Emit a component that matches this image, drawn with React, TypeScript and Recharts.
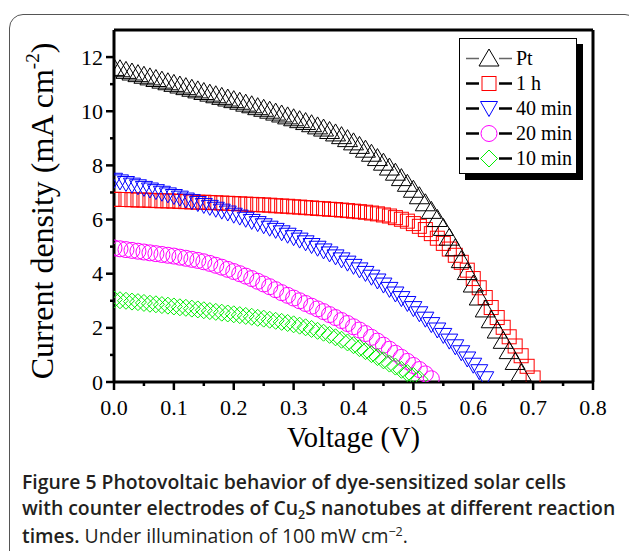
import React from "react";
import { ScatterChart, Scatter, XAxis, YAxis, ReferenceLine, Legend } from "recharts";

// voltage steps shared by all curves (V)
const voltage = [
  0, 0.01, 0.02, 0.03, 0.04, 0.05, 0.06, 0.07, 0.08, 0.09,
  0.1, 0.11, 0.12, 0.13, 0.14, 0.15, 0.16, 0.17, 0.18, 0.19,
  0.2, 0.21, 0.22, 0.23, 0.24, 0.25, 0.26, 0.27, 0.28, 0.29,
  0.3, 0.31, 0.32, 0.33, 0.34, 0.35, 0.36, 0.37, 0.38, 0.39,
  0.4, 0.41, 0.42, 0.43, 0.44, 0.45, 0.46, 0.47, 0.48, 0.49,
  0.5, 0.51, 0.52, 0.53, 0.54, 0.55, 0.56, 0.57, 0.58, 0.59,
  0.6, 0.61, 0.62, 0.63, 0.64, 0.65, 0.66, 0.67, 0.68, 0.69, 0.7,
];

// current density (mA cm-2)
const jPt = [
  11.6, 11.55, 11.49, 11.43, 11.37, 11.31, 11.25, 11.19, 11.13, 11.07,
  11.01, 10.95, 10.89, 10.83, 10.77, 10.71, 10.65, 10.59, 10.53, 10.47,
  10.41, 10.35, 10.28, 10.22, 10.15, 10.09, 10.02, 9.95, 9.88, 9.81,
  9.74, 9.67, 9.6, 9.52, 9.44, 9.36, 9.27, 9.18, 9.08, 8.97,
  8.85, 8.72, 8.58, 8.43, 8.27, 8.1, 7.92, 7.73, 7.53, 7.32,
  7.1, 6.86, 6.6, 6.32, 6.02, 5.69, 5.33, 4.94, 4.5, 4.06,
  3.6, 3.12, 2.68, 2.28, 1.9, 1.52, 1.14, 0.74, 0.32,
];
const j1h = [
  6.75, 6.74, 6.74, 6.73, 6.72, 6.72, 6.71, 6.7, 6.69, 6.69,
  6.68, 6.67, 6.66, 6.65, 6.64, 6.64, 6.63, 6.62, 6.61, 6.6,
  6.59, 6.58, 6.57, 6.56, 6.55, 6.54, 6.53, 6.51, 6.5, 6.49,
  6.47, 6.46, 6.44, 6.43, 6.41, 6.4, 6.38, 6.37, 6.35, 6.33,
  6.31, 6.29, 6.27, 6.24, 6.21, 6.17, 6.13, 6.07, 6.01, 5.94,
  5.85, 5.75, 5.63, 5.48, 5.31, 5.12, 4.91, 4.68, 4.42, 4.13,
  3.82, 3.48, 3.12, 2.75, 2.38, 2.02, 1.67, 1.33, 0.97, 0.58, 0.15,
];
const j40min = [
  7.45, 7.39, 7.33, 7.27, 7.21, 7.15, 7.09, 7.03, 6.97, 6.91,
  6.85, 6.79, 6.72, 6.66, 6.59, 6.52, 6.45, 6.38, 6.31, 6.24,
  6.16, 6.09, 6.01, 5.93, 5.85, 5.77, 5.68, 5.6, 5.51, 5.42,
  5.33, 5.24, 5.14, 5.04, 4.94, 4.84, 4.73, 4.62, 4.51, 4.39,
  4.27, 4.14, 4.01, 3.87, 3.73, 3.58, 3.42, 3.25, 3.08, 2.9,
  2.71, 2.52, 2.32, 2.12, 1.92, 1.72, 1.51, 1.3, 1.08, 0.85,
  0.62, 0.38, 0.12,
];
const j20min = [
  4.95, 4.92, 4.89, 4.86, 4.83, 4.8, 4.77, 4.74, 4.71, 4.68,
  4.65, 4.61, 4.57, 4.53, 4.49, 4.44, 4.38, 4.31, 4.24, 4.16,
  4.08, 4.0, 3.91, 3.82, 3.72, 3.62, 3.52, 3.41, 3.3, 3.2,
  3.1, 3.0, 2.9, 2.8, 2.7, 2.6, 2.49, 2.38, 2.27, 2.16,
  2.04, 1.92, 1.79, 1.65, 1.51, 1.36, 1.21, 1.06, 0.91, 0.76,
  0.61, 0.46, 0.3, 0.12,
];
const j10min = [
  3.05, 3.02, 3.0, 2.97, 2.95, 2.92, 2.89, 2.87, 2.84, 2.82,
  2.79, 2.76, 2.74, 2.71, 2.68, 2.65, 2.62, 2.59, 2.56, 2.53,
  2.5, 2.47, 2.44, 2.41, 2.37, 2.34, 2.3, 2.26, 2.22, 2.18,
  2.13, 2.08, 2.02, 1.96, 1.89, 1.82, 1.74, 1.65, 1.56, 1.46,
  1.36, 1.25, 1.14, 1.03, 0.92, 0.8, 0.68, 0.57, 0.45, 0.33,
  0.22, 0.1,
];

const xTicks = [0, 0.05, 0.1, 0.15, 0.2, 0.25, 0.3, 0.35, 0.4, 0.45, 0.5, 0.55, 0.6, 0.65, 0.7, 0.75, 0.8];
const yTicks = [0, 1, 2, 3, 4, 5, 6, 7, 8, 9, 10, 11, 12];

const serif = '"Liberation Serif", "Times New Roman", serif';

const toPoints = (js: number[]) => js.map((j, i) => ({ v: voltage[i], j }));

// hollow marker shapes
function Marker({ kind, cx, cy, color }: { kind: string; cx: number; cy: number; color: string }) {
  const common = { fill: "none", stroke: color, strokeWidth: 1 };
  if (kind === "up") {
    return <path d={`M${cx},${cy - 9.5}L${cx + 10},${cy + 7.5}L${cx - 10},${cy + 7.5}Z`} {...common} />;
  }
  if (kind === "square") {
    return <rect x={cx - 7} y={cy - 7} width={14} height={14} {...common} />;
  }
  if (kind === "down") {
    return <path d={`M${cx - 8.5},${cy - 7}L${cx + 8.5},${cy - 7}L${cx},${cy + 8}Z`} {...common} />;
  }
  if (kind === "circle") {
    return <circle cx={cx} cy={cy} r={8} {...common} />;
  }
  return <path d={`M${cx},${cy - 8.5}L${cx + 8.5},${cy}L${cx},${cy + 8.5}L${cx - 8.5},${cy}Z`} {...common} />;
}

const series = [
  { name: "Pt", data: toPoints(jPt), color: "#000000", kind: "up", line: "#666666", lw: 1.5 },
  { name: "1 h", data: toPoints(j1h), color: "#ff0000", kind: "square", line: "#000000", lw: 2.5 },
  { name: "40 min", data: toPoints(j40min), color: "#0000ff", kind: "down", line: "#000000", lw: 2.5 },
  { name: "20 min", data: toPoints(j20min), color: "#ff00ff", kind: "circle", line: "#000000", lw: 2.5 },
  { name: "10 min", data: toPoints(j10min), color: "#00ee00", kind: "diamond", line: "#000000", lw: 2.5 },
];
// draw order: red first, Pt last
const drawOrder = [1, 2, 3, 4, 0];

function XTick({ x, y, payload }: any) {
  const v = payload.value;
  const major = Math.round(v * 100) % 10 === 0;
  return (
    <g>
      <line x1={x} x2={x} y1={y} y2={y + (major ? 8 : 4)} stroke="#000" strokeWidth={2.5} />
      {major && (
        <text x={x} y={y + 33} textAnchor="middle" fontFamily={serif} fontSize={22} fill="#000">
          {v.toFixed(1)}
        </text>
      )}
    </g>
  );
}

function YTick({ x, y, payload }: any) {
  const v = payload.value;
  const major = v % 2 === 0;
  return (
    <g>
      <line x1={x - (major ? 8 : 4)} x2={x} y1={y} y2={y} stroke="#000" strokeWidth={2.5} />
      {major && (
        <text x={x - 11} y={y + 7.5} textAnchor="end" fontFamily={serif} fontSize={22} fill="#000">
          {v}
        </text>
      )}
    </g>
  );
}

function LegendBox() {
  return (
    <div
      style={{
        width: 118,
        height: 136,
        boxSizing: "border-box",
        border: "1px solid #000",
        background: "#fff",
        boxShadow: "6px 6px 0 #000",
        paddingTop: 7,
      }}
    >
      {series.map((s) => (
        <div key={s.name} style={{ display: "flex", alignItems: "center", height: 25, whiteSpace: "nowrap" }}>
          <svg width={56} height={25} style={{ flex: "none" }}>
            <line x1={6} x2={52} y1={12.5} y2={12.5} stroke={s.line} strokeWidth={s.lw} />
            <rect x={19} y={3} width={20} height={19} fill="#fff" />
            <Marker kind={s.kind} cx={29} cy={12.5} color={s.color} />
          </svg>
          <span style={{ fontFamily: serif, fontSize: 20, lineHeight: "25px", color: "#000", whiteSpace: "nowrap" }}>
            {s.name}
          </span>
        </div>
      ))}
    </div>
  );
}

export default function App() {
  return (
    <div style={{ position: "absolute", left: 0, top: 0, width: 629, height: 551, overflow: "hidden", background: "#fff" }}>
      <div
        style={{
          position: "absolute",
          left: 9,
          top: 14,
          width: 630,
          height: 600,
          border: "1.5px solid #555",
          borderRadius: 14,
          boxSizing: "border-box",
        }}
      />
      <div style={{ position: "absolute", left: 0, top: 0 }}>
        <ScatterChart width={629} height={551} margin={{ top: 30, right: 36, bottom: 0, left: 0 }}>
          <XAxis
            type="number"
            dataKey="v"
            domain={[0, 0.8]}
            ticks={xTicks}
            interval={0}
            height={169}
            tickSize={0}
            tickMargin={0}
            tickLine={false}
            tick={<XTick />}
            axisLine={{ stroke: "#000", strokeWidth: 3 }}
            allowDataOverflow
            label={{
              content: ({ viewBox }: any) => (
                <text x={viewBox.x + viewBox.width / 2} y={viewBox.y + 65} textAnchor="middle" fontFamily={serif} fontSize={28.5} fill="#000">
                  Voltage (V)
                </text>
              ),
            }}
          />
          <YAxis
            type="number"
            dataKey="j"
            domain={[0, 13]}
            ticks={yTicks}
            interval={0}
            width={114}
            tickSize={0}
            tickMargin={0}
            tickLine={false}
            tick={<YTick />}
            axisLine={{ stroke: "#000", strokeWidth: 3 }}
            allowDataOverflow
            label={{
              content: () => {
                const cx = 53;
                const cy = 211;
                return (
                  <text x={cx} y={cy} transform={`rotate(-90, ${cx}, ${cy})`} textAnchor="middle" fontFamily={serif} fontSize={32} fill="#000">
                    Current density (mA cm
                    <tspan fontSize={19} dy={-14}>-2</tspan>
                    <tspan dy={14}>)</tspan>
                  </text>
                );
              },
            }}
          />
          <ReferenceLine y={13} stroke="#000" strokeWidth={3} />
          <ReferenceLine x={0.8} stroke="#000" strokeWidth={3} />
          {drawOrder.map((k) => {
            const s = series[k];
            return (
              <Scatter
                key={s.name}
                name={s.name}
                data={s.data}
                isAnimationActive={false}
                shape={(p: any) => <Marker kind={s.kind} cx={p.cx} cy={p.cy} color={s.color} />}
              />
            );
          })}
          <Legend
            layout="horizontal"
            verticalAlign="middle"
            align="center"
            wrapperStyle={{ left: 459, top: 38, width: 130, height: 142 }}
            content={() => <LegendBox />}
          />
        </ScatterChart>
      </div>
      <div
        style={{
          position: "absolute",
          left: 22,
          top: 469,
          fontFamily: '"Open Sans", "Noto Sans", sans-serif',
          fontSize: 19.4,
          lineHeight: "25.5px",
          color: "#231f20",
          whiteSpace: "nowrap",
        }}
      >
        <div style={{ fontWeight: 600 }}>Figure 5 Photovoltaic behavior of dye-sensitized solar cells</div>
        <div style={{ fontWeight: 600 }}>
          with counter electrodes of Cu
          <span style={{ fontSize: 12.5, position: "relative", top: 4 }}>2</span>S nanotubes at different reaction
        </div>
        <div>
          <span style={{ fontWeight: 600 }}>times.</span> Under illumination of 100 mW cm
          <span style={{ fontSize: 12.5, position: "relative", top: -7 }}>−2</span>.
        </div>
      </div>
    </div>
  );
}
